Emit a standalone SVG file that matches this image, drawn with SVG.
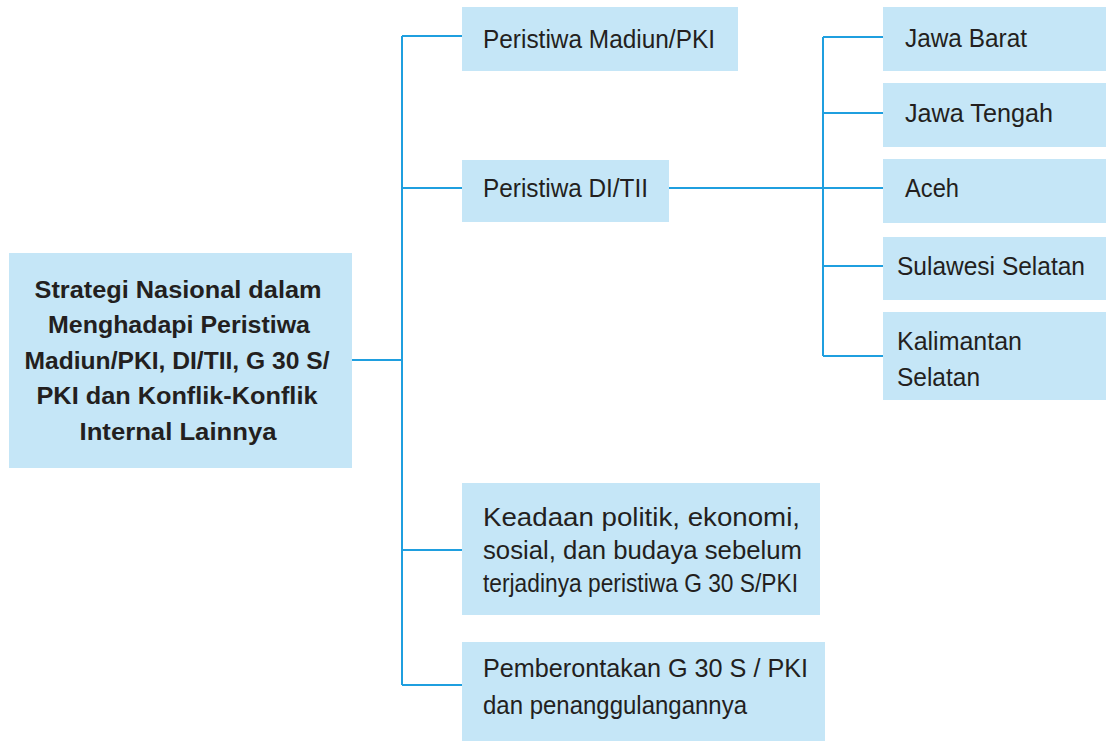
<svg xmlns="http://www.w3.org/2000/svg" width="1106" height="741" viewBox="0 0 1106 741">
<style>
.box{fill:#c5e6f7}
.t{font-family:"Liberation Sans",Arial,sans-serif;font-size:26px;fill:#231f20}
.b{font-family:"Liberation Sans",Arial,sans-serif;font-size:23px;font-weight:bold;fill:#231f20;text-anchor:middle}
.c{fill:none;stroke:#1f9fdf;stroke-width:2}
</style>
<rect width="1106" height="741" fill="#ffffff"/>
<g id="connectors">
<path class="c" d="M352 360H402M402 36V685M402 36H462M402 188H462M402 550H462M402 685H462"/>
<path class="c" d="M669 188H883M823 37V356M823 37H883M823 113H883M823 266H883M823 356H883"/>
</g>
<g id="main">
<rect class="box" x="9" y="253" width="343" height="215"/>
<text class="b" x="178" y="298" textLength="287" lengthAdjust="spacingAndGlyphs">Strategi Nasional dalam</text>
<text class="b" x="179" y="333" textLength="262" lengthAdjust="spacingAndGlyphs">Menghadapi Peristiwa</text>
<text class="b" x="177" y="369" textLength="305" lengthAdjust="spacingAndGlyphs">Madiun/PKI, DI/TII, G 30 S/</text>
<text class="b" x="177" y="404" textLength="281" lengthAdjust="spacingAndGlyphs">PKI dan Konflik-Konflik</text>
<text class="b" x="178" y="440" textLength="197" lengthAdjust="spacingAndGlyphs">Internal Lainnya</text>
</g>
<g id="madiun">
<rect class="box" x="462" y="7" width="276" height="64"/>
<text class="t" x="483" y="48" textLength="232" lengthAdjust="spacingAndGlyphs">Peristiwa Madiun/PKI</text>
</g>
<g id="ditii">
<rect class="box" x="462" y="160" width="207" height="62"/>
<text class="t" x="483" y="197" textLength="165" lengthAdjust="spacingAndGlyphs">Peristiwa DI/TII</text>
</g>
<g id="jawabarat">
<rect class="box" x="883" y="7" width="223" height="64"/>
<text class="t" x="905" y="47" textLength="122" lengthAdjust="spacingAndGlyphs">Jawa Barat</text>
</g>
<g id="jawatengah">
<rect class="box" x="883" y="83" width="223" height="64"/>
<text class="t" x="905" y="122" textLength="148" lengthAdjust="spacingAndGlyphs">Jawa Tengah</text>
</g>
<g id="aceh">
<rect class="box" x="883" y="159" width="223" height="64"/>
<text class="t" x="905" y="197" textLength="54" lengthAdjust="spacingAndGlyphs">Aceh</text>
</g>
<g id="sulawesi">
<rect class="box" x="883" y="237" width="223" height="63"/>
<text class="t" x="897" y="275" textLength="188" lengthAdjust="spacingAndGlyphs">Sulawesi Selatan</text>
</g>
<g id="kalimantan">
<rect class="box" x="883" y="312" width="223" height="88"/>
<text class="t" x="897" y="350" textLength="125" lengthAdjust="spacingAndGlyphs">Kalimantan</text>
<text class="t" x="897" y="386" textLength="83" lengthAdjust="spacingAndGlyphs">Selatan</text>
</g>
<g id="keadaan">
<rect class="box" x="462" y="483" width="358" height="132"/>
<text class="t" x="483" y="526" textLength="317" lengthAdjust="spacingAndGlyphs">Keadaan politik, ekonomi,</text>
<text class="t" x="483" y="559" textLength="319" lengthAdjust="spacingAndGlyphs">sosial, dan budaya sebelum</text>
<text class="t" x="483" y="592" textLength="315" lengthAdjust="spacingAndGlyphs">terjadinya peristiwa G 30 S/PKI</text>
</g>
<g id="pemberontakan">
<rect class="box" x="462" y="642" width="363" height="99"/>
<text class="t" x="483" y="677" textLength="325" lengthAdjust="spacingAndGlyphs">Pemberontakan G 30 S / PKI</text>
<text class="t" x="483" y="714" textLength="264" lengthAdjust="spacingAndGlyphs">dan penanggulangannya</text>
</g>
</svg>
